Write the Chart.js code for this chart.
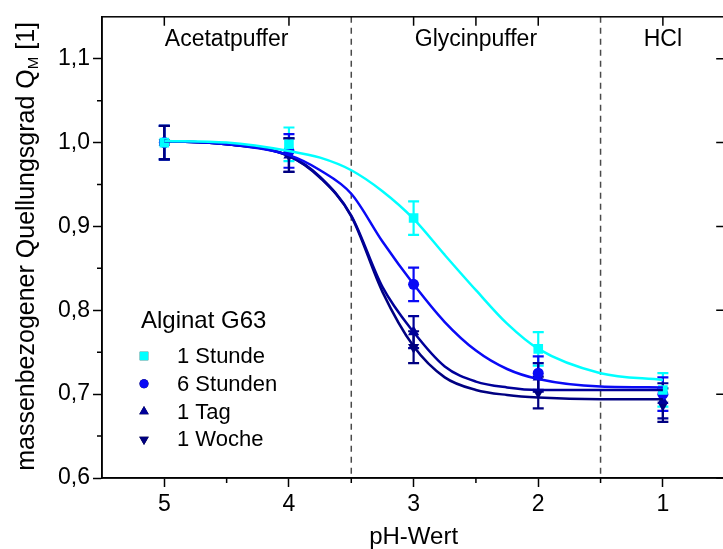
<!DOCTYPE html>
<html>
<head>
<meta charset="utf-8">
<script src="https://cdn.jsdelivr.net/npm/chart.js@4.4.1/dist/chart.umd.min.js"></script>
<style>
  html, body { margin: 0; padding: 0; background: #fff; overflow: hidden; }
  canvas { display: block; }
</style>
</head>
<body>
<canvas id="quellung" width="732" height="549"></canvas>
<script>
// Messpunkte
let phWerte = [5, 4, 3, 2, 1]
let stunde1 = [1.000, 0.998, 0.910, 0.754, 0.705]
let stunden6 = [1.000, 0.990, 0.831, 0.725, 0.700]
let tag1 = [1.000, 0.985, 0.774, 0.720, 0.692]
let woche1 = [1.000, 0.985, 0.756, 0.702, 0.687]

// Standardabweichungen
let fehlerStunde1 = [0.020, 0.020, 0.020, 0.020, 0.020]
let fehlerStunden6 = [0.020, 0.020, 0.020, 0.020, 0.020]
let fehlerTag1 = [0.020, 0.020, 0.019, 0.017, 0.021]
let fehlerWoche1 = [0.020, 0.020, 0.019, 0.019, 0.020]

// Fitkurven
let kurvePh = [5, 4.5, 4, 3.75, 3.5, 3.25, 3, 2.75, 2.5, 2.25, 2, 1.5, 1]
let kurveStunde1 = [1.002, 1.000, 0.990, 0.982, 0.967, 0.942, 0.909, 0.866, 0.824, 0.784, 0.754, 0.725, 0.717]
let kurveStunden6 = [1.002, 0.998, 0.985, 0.967, 0.939, 0.882, 0.831, 0.786, 0.752, 0.730, 0.718, 0.709, 0.708]
let kurveTag1 = [1.002, 0.998, 0.984, 0.959, 0.913, 0.828, 0.774, 0.733, 0.715, 0.708, 0.705, 0.705, 0.705]
let kurveWoche1 = [1.002, 0.998, 0.984, 0.958, 0.912, 0.822, 0.757, 0.720, 0.705, 0.699, 0.696, 0.694, 0.694]

let xTicks = [5, 4, 3, 2, 1]
let xTicksOben = [5, 4, 3, 2.5, 2, 1]
let yTicks = [0.6, 0.7, 0.8, 0.9, 1.0, 1.1]

let bereiche = [
    { name: "Acetatpuffer", von: 5.5, bis: 3.5 },
    { name: "Glycinpuffer", von: 3.5, bis: 1.5 },
    { name: "HCl", von: 1.5, bis: 0.5 }
]
let grenzen = [3.5, 1.5]

let serien = [
    { label: "1 Stunde", werte: stunde1, fehler: fehlerStunde1, kurve: kurveStunde1, farbe: "#00ffff", form: "rect", radius: 6.8, rot: 0 },
    { label: "6 Stunden", werte: stunden6, fehler: fehlerStunden6, kurve: kurveStunden6, farbe: "#0a0af5", form: "circle", radius: 5.5, rot: 0 },
    { label: "1 Tag", werte: tag1, fehler: fehlerTag1, kurve: kurveTag1, farbe: "#000099", form: "triangle", radius: 6.5, rot: 0 },
    { label: "1 Woche", werte: woche1, fehler: fehlerWoche1, kurve: kurveWoche1, farbe: "#000080", form: "triangle", radius: 6.5, rot: 180 }
]

const schrift = "'Liberation Sans', Arial, sans-serif"

let datensaetze = []
serien.forEach(s => {
    datensaetze.push({
        label: s.label + " Fit",
        data: kurvePh.map((p, i) => ({ x: p, y: s.kurve[i] })),
        showLine: true,
        borderColor: s.farbe,
        borderWidth: 2.5,
        pointRadius: 0,
        cubicInterpolationMode: "monotone",
        fill: false
    })
})
serien.forEach(s => {
    datensaetze.push({
        label: s.label,
        data: phWerte.map((p, i) => ({ x: p, y: s.werte[i] })),
        showLine: false,
        pointStyle: s.form,
        pointRadius: s.radius,
        rotation: s.rot,
        backgroundColor: s.farbe,
        borderColor: s.farbe,
        borderWidth: 0
    })
})

// Fehlerbalken, Trennlinien, Rahmen und Beschriftungen
const zusatz = {
    id: "zusatz",
    beforeDatasetsDraw(chart) {
        let ctx = chart.ctx
        let a = chart.chartArea
        let xs = chart.scales.x
        let ys = chart.scales.y

        ctx.save()
        ctx.strokeStyle = "#4a4a4a"
        ctx.lineWidth = 1.5
        ctx.setLineDash([6, 5])
        grenzen.forEach(g => {
            let px = xs.getPixelForValue(g)
            ctx.beginPath()
            ctx.moveTo(px, a.top)
            ctx.lineTo(px, a.bottom)
            ctx.stroke()
        })
        ctx.restore()

        ctx.save()
        ctx.lineWidth = 2.2
        serien.forEach(s => {
            ctx.strokeStyle = s.farbe
            phWerte.forEach((p, i) => {
                let px = xs.getPixelForValue(p)
                let oben = ys.getPixelForValue(s.werte[i] + s.fehler[i])
                let unten = ys.getPixelForValue(s.werte[i] - s.fehler[i])
                ctx.beginPath()
                ctx.moveTo(px, oben)
                ctx.lineTo(px, unten)
                ctx.moveTo(px - 5.5, oben)
                ctx.lineTo(px + 5.5, oben)
                ctx.moveTo(px - 5.5, unten)
                ctx.lineTo(px + 5.5, unten)
                ctx.stroke()
            })
        })
        ctx.restore()
    },
    afterDraw(chart) {
        let ctx = chart.ctx
        let a = chart.chartArea
        let xs = chart.scales.x
        let ys = chart.scales.y

        ctx.save()
        ctx.strokeStyle = "#000"
        ctx.lineWidth = 1.5
        ctx.strokeRect(a.left, a.top, a.right - a.left, a.bottom - a.top)

        // Nebenstriche unten und links, Striche oben und rechts
        ctx.beginPath()
        for (let v = 4.5; v > 0.5; v -= 1) {
            let px = xs.getPixelForValue(v)
            ctx.moveTo(px, a.bottom)
            ctx.lineTo(px, a.bottom + 5)
        }
        xTicksOben.forEach(v => {
            let px = xs.getPixelForValue(v)
            ctx.moveTo(px, a.top)
            ctx.lineTo(px, a.top + 9)
        })
        for (let v = 0.65; v < 1.15; v += 0.1) {
            let py = ys.getPixelForValue(v)
            ctx.moveTo(a.left, py)
            ctx.lineTo(a.left - 5, py)
        }
        yTicks.forEach(v => {
            let py = ys.getPixelForValue(v)
            ctx.moveTo(a.right, py)
            ctx.lineTo(a.right - 9, py)
        })
        ctx.stroke()

        // Pufferbereiche
        ctx.fillStyle = "#000"
        ctx.font = "23px " + schrift
        ctx.textAlign = "center"
        ctx.textBaseline = "alphabetic"
        bereiche.forEach(b => {
            let mitte = (xs.getPixelForValue(b.von) + xs.getPixelForValue(b.bis)) / 2
            ctx.fillText(b.name, mitte, a.top + 29)
        })

        // Legende
        ctx.textAlign = "left"
        ctx.textBaseline = "middle"
        ctx.font = "24px " + schrift
        ctx.fillText("Alginat G63", 141, 321)
        ctx.font = "22px " + schrift
        serien.forEach((s, i) => {
            let y = 356 + i * 27.8
            ctx.fillStyle = "#000"
            ctx.fillText(s.label, 177, y + 1)
            Chart.helpers.drawPoint(ctx, {
                pointStyle: s.form,
                radius: s.form === "triangle" ? 5.5 : (s.form === "rect" ? 6 : 4.5),
                rotation: s.rot,
                borderWidth: 0
            }, 144, y)
            ctx.fillStyle = s.farbe
            ctx.fill()
        })

        // y-Achsentitel mit Index
        let teile = [
            { t: "massenbezogener Quellungsgrad Q", f: "25px " + schrift, dy: 0 },
            { t: "M", f: "15px " + schrift, dy: 7 },
            { t: " [1]", f: "25px " + schrift, dy: 0 }
        ]
        let breite = 0
        teile.forEach(p => { ctx.font = p.f; p.w = ctx.measureText(p.t).width; breite += p.w })
        ctx.translate(27, (a.top + a.bottom) / 2 - 1)
        ctx.rotate(-Math.PI / 2)
        ctx.textBaseline = "middle"
        ctx.fillStyle = "#000"
        let x = -breite / 2
        teile.forEach(p => {
            ctx.font = p.f
            ctx.fillText(p.t, x, p.dy)
            x += p.w
        })
        ctx.restore()
    }
}

let graph = document.getElementById("quellung").getContext("2d")

const config = {
    type: "scatter",
    data: { datasets: datensaetze },
    options: {
        responsive: false,
        animation: false,
        devicePixelRatio: 1,
        layout: { padding: { top: 16, right: 2, left: 0, bottom: 0 } },
        plugins: {
            legend: { display: false },
            tooltip: { enabled: false }
        },
        scales: {
            x: {
                type: "linear",
                reverse: true,
                min: 0.5,
                max: 5.5,
                afterFit: scale => { scale.height = 71 },
                afterBuildTicks: scale => { scale.ticks = xTicks.map(v => ({ value: v })) },
                border: { display: true, color: "#000", width: 1.5 },
                grid: { drawOnChartArea: false, tickLength: 9, tickColor: "#000", tickWidth: 1.5 },
                ticks: {
                    color: "#000",
                    font: { family: schrift, size: 23 },
                    padding: 4,
                    callback: v => String(v)
                },
                title: {
                    display: true,
                    text: "pH-Wert",
                    color: "#000",
                    font: { family: schrift, size: 24, lineHeight: 1 },
                    padding: { top: 0, bottom: 0 }
                }
            },
            y: {
                type: "linear",
                min: 0.6,
                max: 1.15,
                afterFit: scale => { scale.width = 102 },
                afterBuildTicks: scale => { scale.ticks = yTicks.map(v => ({ value: v })) },
                border: { display: true, color: "#000", width: 1.5 },
                grid: { drawOnChartArea: false, tickLength: 9, tickColor: "#000", tickWidth: 1.5 },
                ticks: {
                    color: "#000",
                    font: { family: schrift, size: 23 },
                    padding: 3,
                    callback: v => v.toFixed(1).replace(".", ",")
                }
            }
        }
    },
    plugins: [zusatz]
}

const chartQuellung = new Chart(graph, config)
</script>
</body>
</html>
